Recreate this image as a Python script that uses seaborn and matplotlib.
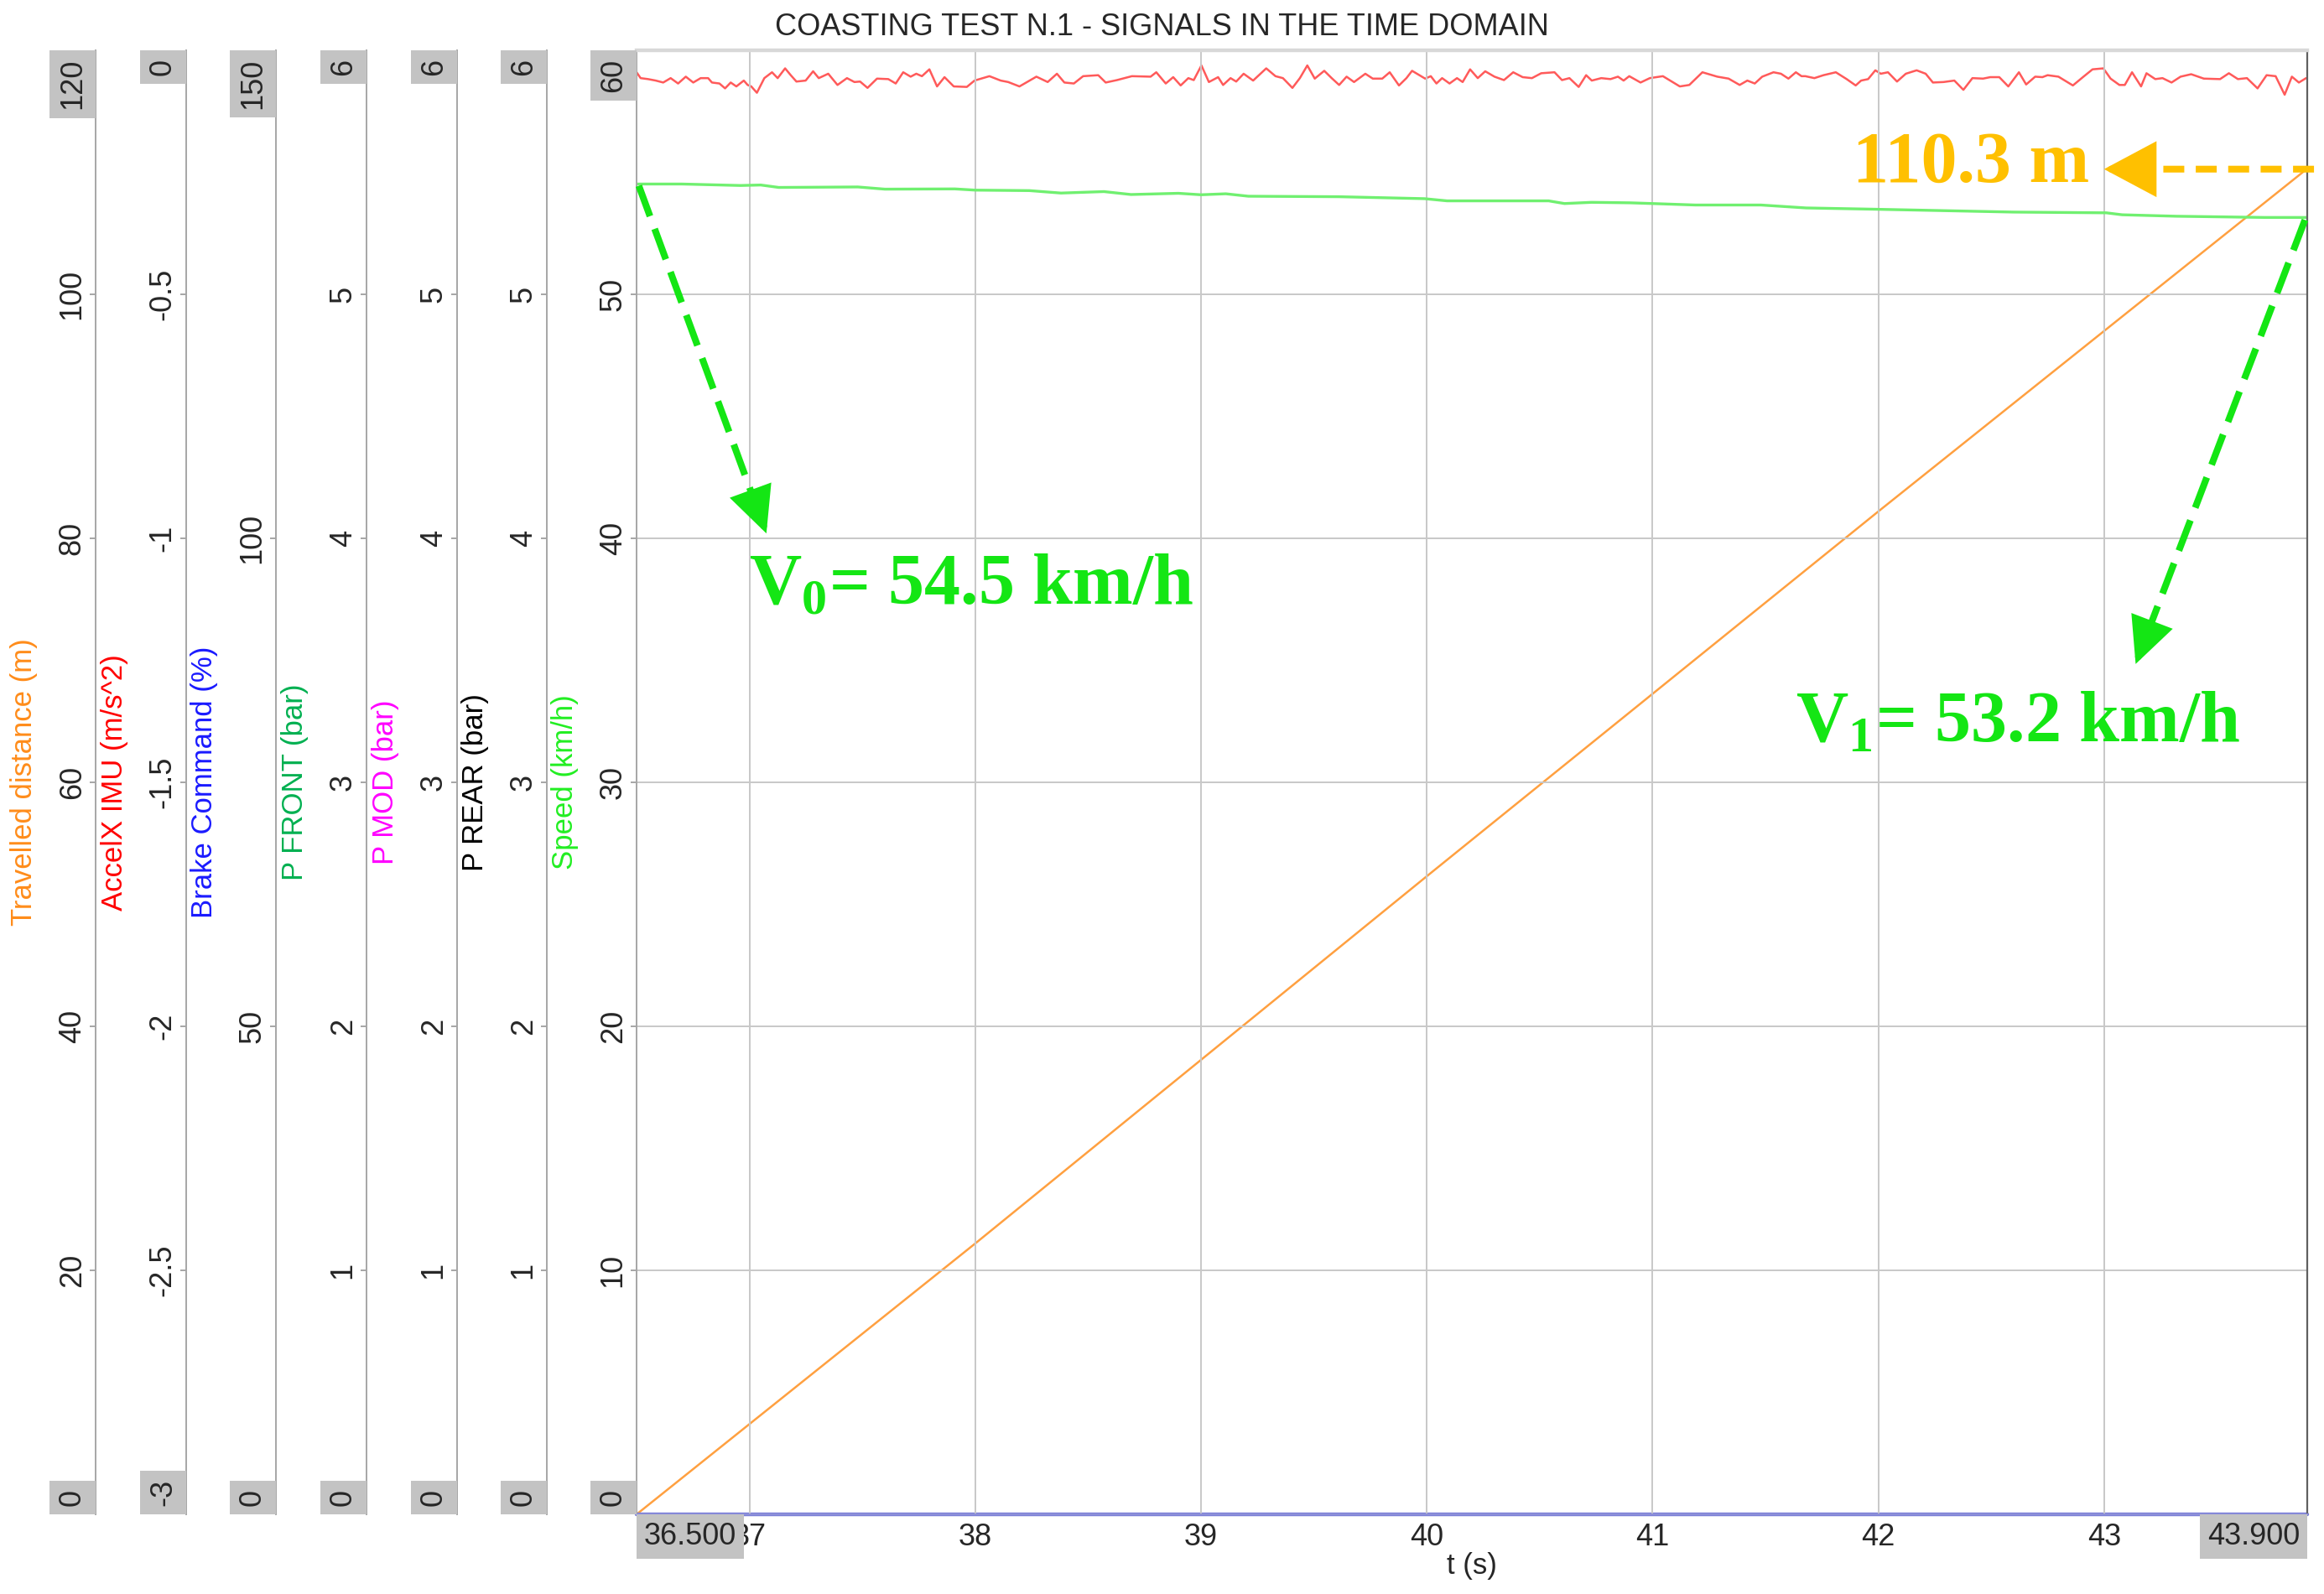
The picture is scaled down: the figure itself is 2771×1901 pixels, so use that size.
import matplotlib
matplotlib.use("Agg")
import matplotlib.pyplot as plt
import seaborn as sns
import numpy as np
import pandas as pd

# ---------------- data ----------------
accel_time = [
    36.500, 36.518, 36.551, 36.585, 36.618, 36.651, 36.684, 36.718, 36.751, 36.784,
    36.817, 36.834, 36.867, 36.892, 36.917, 36.942, 36.975, 36.992, 37.008, 37.033,
    37.066, 37.100, 37.125, 37.158, 37.183, 37.208, 37.249, 37.282, 37.307, 37.349,
    37.390, 37.432, 37.465, 37.490, 37.523, 37.565, 37.615, 37.648, 37.681, 37.714,
    37.739, 37.764, 37.797, 37.831, 37.864, 37.905, 37.963, 37.997, 38.063, 38.113,
    38.146, 38.196, 38.271, 38.321, 38.362, 38.395, 38.437, 38.478, 38.545, 38.578,
    38.628, 38.694, 38.777, 38.802, 38.844, 38.877, 38.910, 38.944, 38.968, 39.002,
    39.035, 39.076,
    39.098, 39.131, 39.156, 39.189, 39.231, 39.289, 39.330, 39.363, 39.405, 39.438,
    39.471, 39.504, 39.546, 39.579, 39.612, 39.645, 39.678, 39.728, 39.761, 39.803,
    39.836, 39.877, 39.910, 39.935, 39.968, 39.993, 40.018, 40.043, 40.068, 40.101,
    40.134, 40.159, 40.192, 40.226, 40.259, 40.300, 40.342, 40.383, 40.425, 40.466,
    40.507, 40.566, 40.599, 40.632, 40.673, 40.706, 40.731, 40.773, 40.814, 40.847,
    40.872, 40.897, 40.947, 40.988, 41.046, 41.121, 41.163, 41.221, 41.287, 41.337,
    41.386, 41.420, 41.453, 41.486, 41.536, 41.569, 41.602, 41.635, 41.660,
    41.677, 41.717, 41.757, 41.812, 41.860, 41.900, 41.924, 41.955, 41.987, 42.011,
    42.043, 42.083, 42.122, 42.170, 42.210, 42.242, 42.289, 42.337, 42.377, 42.417,
    42.464, 42.496, 42.536, 42.576, 42.623, 42.655, 42.695, 42.727, 42.750, 42.798,
    42.862, 42.909, 42.949, 42.997, 43.029, 43.068, 43.092, 43.124, 43.164, 43.188,
    43.227, 43.259, 43.299, 43.339, 43.386, 43.442, 43.514, 43.553, 43.593, 43.633,
    43.680, 43.720, 43.760, 43.800, 43.832, 43.863, 43.895,
]
accel_x = [
    -0.045, -0.057, -0.059, -0.062, -0.066, -0.057, -0.068, -0.054, -0.066, -0.057,
    -0.057, -0.066, -0.068, -0.078, -0.066, -0.074, -0.062, -0.071, -0.074, -0.087,
    -0.057, -0.045, -0.057, -0.037, -0.051, -0.064, -0.062, -0.043, -0.057, -0.048,
    -0.071, -0.057, -0.065, -0.064, -0.077, -0.058, -0.059, -0.068, -0.045, -0.054,
    -0.048, -0.053, -0.039, -0.074, -0.055, -0.074, -0.075, -0.062, -0.053, -0.062,
    -0.065, -0.074, -0.054, -0.065, -0.048, -0.066, -0.068, -0.053, -0.051, -0.066,
    -0.061, -0.053, -0.054, -0.045, -0.068, -0.055, -0.072, -0.057, -0.061, -0.031,
    -0.065, -0.055,
    -0.071, -0.057, -0.064, -0.048, -0.062, -0.037, -0.053, -0.057, -0.077, -0.057,
    -0.031, -0.058, -0.042, -0.057, -0.071, -0.054, -0.065, -0.048, -0.058, -0.058,
    -0.045, -0.072, -0.057, -0.042, -0.051, -0.058, -0.053, -0.068, -0.057, -0.068,
    -0.057, -0.065, -0.039, -0.057, -0.043, -0.054, -0.061, -0.045, -0.055, -0.057,
    -0.047, -0.045, -0.061, -0.057, -0.075, -0.051, -0.062, -0.057, -0.059, -0.054,
    -0.062, -0.053, -0.066, -0.057, -0.053, -0.074, -0.071, -0.045, -0.054, -0.058,
    -0.071, -0.062, -0.068, -0.054, -0.045, -0.048, -0.058, -0.045, -0.053,
    -0.053, -0.057, -0.051, -0.045, -0.059, -0.072, -0.062, -0.059, -0.041, -0.048,
    -0.045, -0.064, -0.048, -0.041, -0.048, -0.066, -0.065, -0.062, -0.081, -0.057,
    -0.058, -0.055, -0.055, -0.074, -0.045, -0.070, -0.054, -0.055, -0.051, -0.054,
    -0.072, -0.054, -0.039, -0.037, -0.058, -0.071, -0.071, -0.045, -0.074, -0.047,
    -0.059, -0.057, -0.066, -0.054, -0.049, -0.058, -0.059, -0.047, -0.059, -0.057,
    -0.078, -0.051, -0.053, -0.091, -0.054, -0.066, -0.057,
]

speed_time = [36.50, 36.70, 36.96, 37.05, 37.13, 37.48, 37.60, 37.91, 38.00, 38.24,
              38.38, 38.57, 38.69, 38.90, 39.00, 39.11, 39.21, 39.61, 39.99, 40.09,
              40.20, 40.54, 40.61, 40.73, 40.90, 41.00, 41.19, 41.48, 41.68, 41.97,
              42.60, 43.01, 43.08, 43.32, 43.71, 43.90]
speed_kmh = [54.52, 54.52, 54.46, 54.48, 54.38, 54.40, 54.31, 54.32, 54.27, 54.25,
             54.15, 54.21, 54.09, 54.14, 54.08, 54.12, 54.02, 54.00, 53.92, 53.83,
             53.83, 53.83, 53.72, 53.77, 53.75, 53.72, 53.66, 53.66, 53.54, 53.49,
             53.37, 53.34, 53.26, 53.20, 53.15, 53.15]

dist_time = [36.5, 38.0, 40.0, 42.0, 43.9]
distance_m = [0.0, 22.2, 52.3, 82.2, 110.3]

flat_time = [36.5, 43.9]
brake_cmd = [0.0, 0.0]
p_front = [0.0, 0.0]
p_mod = [0.0, 0.0]
p_rear = [0.0, 0.0]

axis_names = ["Travelled distance (m)", "AccelX IMU (m/s^2)", "Brake Command (%)",
              "P FRONT (bar)", "P MOD (bar)", "P REAR (bar)", "Speed (km/h)"]
axis_label_colors = ["#FF8C1A", "#FF0000", "#1A1AFF", "#00B050", "#FF00FF", "#000000", "#22EE22"]
axis_limits = [(0, 120), (-3, 0), (0, 150), (0, 6), (0, 6), (0, 6), (0, 60)]
axis_inner_ticks = [[20, 40, 60, 80, 100], [-2.5, -2, -1.5, -1, -0.5], [50, 100],
                    [1, 2, 3, 4, 5], [1, 2, 3, 4, 5], [1, 2, 3, 4, 5], [10, 20, 30, 40, 50]]
axis_inner_labels = [["20", "40", "60", "80", "100"], ["-2.5", "-2", "-1.5", "-1", "-0.5"],
                     ["50", "100"], ["1", "2", "3", "4", "5"], ["1", "2", "3", "4", "5"],
                     ["1", "2", "3", "4", "5"], ["10", "20", "30", "40", "50"]]
axis_end_labels = [("0", "120"), ("-3", "0"), ("0", "150"), ("0", "6"), ("0", "6"), ("0", "6"), ("0", "60")]

x_ticks = [37, 38, 39, 40, 41, 42, 43]
x_tick_labels = ["37", "38", "39", "40", "41", "42", "43"]
x_end_labels = ("36.500", "43.900")
x_limits = (36.5, 43.9)

title = "COASTING TEST N.1 - SIGNALS IN THE TIME DOMAIN"

# ---------------- style ----------------
sns.set_style("white")
plt.rcParams["font.family"] = ["Liberation Sans", "DejaVu Sans"]
plt.rcParams["axes.unicode_minus"] = False
plt.rcParams["mathtext.fontset"] = "custom"
plt.rcParams["mathtext.rm"] = "Liberation Serif:bold"
plt.rcParams["mathtext.bf"] = "Liberation Serif:bold"
plt.rcParams["mathtext.it"] = "Liberation Serif:bold"
plt.rcParams["mathtext.default"] = "rm"

W, H = 2771, 1901
DPI = 200
fig = plt.figure(figsize=(W / DPI, H / DPI), dpi=DPI, facecolor="white")
px0, px1, py_top, py_bot = 759, 2751, 60, 1806
ax = fig.add_axes([px0 / W, 1 - py_bot / H, (px1 - px0) / W, (py_bot - py_top) / H])
spine_px = [114, 222, 329, 437, 545, 652]
spine_frac = [(p - px0) / (px1 - px0) for p in spine_px] + [0.0]
label_off = 69 / (px1 - px0)

SPINE_GRAY = "#A6A6A6"
BOX_GRAY = "#C3C3C3"
TICK_FS = 13


def style_y(a, idx):
    lo, hi = axis_limits[idx]
    a.set_ylim(lo, hi)
    a.set_yticks(axis_inner_ticks[idx])
    a.set_yticklabels(axis_inner_labels[idx], rotation=90, va="center", fontsize=TICK_FS)
    a.tick_params(axis="y", direction="out", length=2.5, width=0.7, color=SPINE_GRAY, pad=1.2)
    a.set_ylabel(axis_names[idx], color=axis_label_colors[idx], fontsize=12.5)
    a.yaxis.set_label_coords(spine_frac[idx] - label_off, 0.5)
    p = 0.28 * TICK_FS
    bb = dict(boxstyle="square,pad=0.28", fc=BOX_GRAY, ec="none")
    a.annotate(axis_end_labels[idx][1], xy=(spine_frac[idx], 1), xycoords="axes fraction",
               xytext=(-p, -p), textcoords="offset points", rotation=90, ha="right", va="top",
               fontsize=TICK_FS, bbox=bb, annotation_clip=False, zorder=6)
    a.annotate(axis_end_labels[idx][0], xy=(spine_frac[idx], 0), xycoords="axes fraction",
               xytext=(-p, p), textcoords="offset points", rotation=90, ha="right", va="bottom",
               fontsize=TICK_FS, bbox=bb, annotation_clip=False, zorder=6)


twin_data = [
    (dist_time, distance_m, "#FFA040", 0.9, True),
    (accel_time, accel_x, "#FF5A5A", 0.9, True),
    (flat_time, brake_cmd, "#7C80D8", 1.6, False),
    (flat_time, p_front, "#7C80D8", 0.8, True),
    (flat_time, p_mod, "#7C80D8", 0.8, True),
    (flat_time, p_rear, "#7C80D8", 0.8, True),
]

for i, (tx, ty, col, lw, clip) in enumerate(twin_data):
    tw = ax.twinx()
    tw.set_zorder(5 if i == 2 else 1)
    tw.yaxis.tick_left()
    tw.yaxis.set_label_position("left")
    for s in ["right", "top", "bottom"]:
        tw.spines[s].set_visible(False)
    tw.spines["left"].set_visible(True)
    tw.spines["left"].set_position(("axes", spine_frac[i]))
    tw.spines["left"].set_color(SPINE_GRAY)
    tw.spines["left"].set_linewidth(0.7)
    df = pd.DataFrame({"t": tx, "v": ty})
    sns.lineplot(data=df, x="t", y="v", ax=tw, color=col, linewidth=lw, sort=False,
                 clip_on=clip)
    tw.set_xlim(*x_limits)
    style_y(tw, i)

# main axis: speed
ax.set_zorder(10)
ax.patch.set_visible(False)
df_s = pd.DataFrame({"t": speed_time, "v": speed_kmh})
sns.lineplot(data=df_s, x="t", y="v", ax=ax, color="#70F070", linewidth=1.2, sort=False)
ax.set_xlim(*x_limits)
style_y(ax, 6)
ax.set_xticks(x_ticks)
ax.set_xticklabels(x_tick_labels, fontsize=13)
ax.tick_params(axis="x", direction="out", length=2.5, width=0.7, color=SPINE_GRAY, pad=1.2)
ax.set_xlabel("t (s)", fontsize=12.5, labelpad=0)
ax.grid(True, color="#C8C8C8", linewidth=0.7)
ax.set_axisbelow(True)
ax.spines["left"].set_color(SPINE_GRAY)
ax.spines["left"].set_linewidth(0.7)
ax.spines["top"].set_color("#D8D8D8")
ax.spines["top"].set_linewidth(1.6)
ax.spines["right"].set_color("#606060")
ax.spines["right"].set_linewidth(0.8)
ax.spines["bottom"].set_color("#8C8FD8")
ax.spines["bottom"].set_linewidth(0.8)

p = 0.25 * 13
bbx = dict(boxstyle="square,pad=0.25", fc=BOX_GRAY, ec="none")
ax.annotate(x_end_labels[0], xy=(0, 0), xycoords="axes fraction", xytext=(p, -p),
            textcoords="offset points", ha="left", va="top", fontsize=13, bbox=bbx,
            annotation_clip=False, zorder=6)
ax.annotate(x_end_labels[1], xy=(1, 0), xycoords="axes fraction", xytext=(-p, -p),
            textcoords="offset points", ha="right", va="top", fontsize=13, bbox=bbx,
            annotation_clip=False, zorder=6)

fig.text(0.5, 1 - 32 / H, title, ha="center", va="center", fontsize=13)

# ---------------- annotations ----------------
GREEN = "#14E614"
GOLD = "#FFC000"
serif = dict(fontfamily="Liberation Serif", fontweight="bold", fontsize=31)


def dashed_arrow(start, tip, color, dashes, head_frac, hl, hw, ms):
    base = (tip[0] + head_frac * (start[0] - tip[0]), tip[1] + head_frac * (start[1] - tip[1]))
    ax.annotate("", xy=base, xytext=start, xycoords="data", textcoords="data",
                arrowprops=dict(arrowstyle="-", color=color, lw=2.9,
                                linestyle=(0, dashes), shrinkA=0, shrinkB=0,
                                capstyle="butt"),
                annotation_clip=False, zorder=8)
    ax.annotate("", xy=tip, xytext=base, xycoords="data", textcoords="data",
                arrowprops=dict(arrowstyle=f"-|>,head_length={hl},head_width={hw}",
                                mutation_scale=ms, color=color, lw=2.9,
                                shrinkA=0, shrinkB=0, joinstyle="miter"),
                annotation_clip=False, zorder=8)


dashed_arrow((36.51, 54.45), (37.075, 40.2), GREEN, (4.8, 2.0), 0.12, 0.75, 0.36, 20)
dashed_arrow((43.89, 53.05), (43.14, 34.85), GREEN, (4.8, 2.0), 0.09, 0.75, 0.36, 20)
dashed_arrow((43.93, 55.13), (43.0, 55.13), GOLD, (3.1, 1.7), 0.22, 0.9, 0.48, 20)

ax.text(36.996, 37.34, r"V$_0$= 54.5 km/h", color=GREEN, ha="left", va="baseline", zorder=9, **serif)
ax.text(41.635, 31.7, r"V$_1$= 53.2 km/h", color=GREEN, ha="left", va="baseline", zorder=9, **serif)
ax.text(41.885, 54.6, "110.3 m", color=GOLD, ha="left", va="baseline", zorder=9, **serif)

fig.savefig("out.png", dpi=DPI, facecolor="white")
